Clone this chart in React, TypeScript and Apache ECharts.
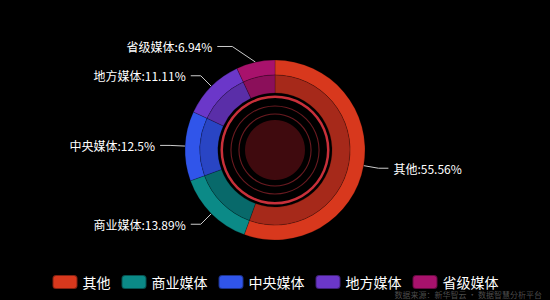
import React, { useEffect, useRef } from "react";
import * as echarts from "echarts";

const categories = ["其他", "商业媒体", "中央媒体", "地方媒体", "省级媒体"];
const values = [40, 10, 9, 8, 5];
const outerColors = ["#d8381d", "#0b8a87", "#3055ea", "#6b37c9", "#a8126c"];
const innerColors = ["#a6291a", "#08696a", "#2945c4", "#5a2ea8", "#8b0f5a"];
const watermark = "数据来源：新华智云 · 数据智慧分析平台";

export default function App() {
  const ref = useRef<HTMLDivElement>(null);
  useEffect(() => {
    document.body.style.margin = "0";
    document.body.style.background = "#000";
    const chart = echarts.init(ref.current!, null, { renderer: "svg" });
    const center = ["50%", "50%"];
    const font = '"Noto Sans CJK SC", sans-serif';
    const ring = (inner: number, outer: number, color: string) => ({
      type: "pie",
      center,
      radius: [inner, outer],
      silent: true,
      label: { show: false },
      labelLine: { show: false },
      itemStyle: { color },
      data: [{ value: 1, name: "" }],
      legendHoverLink: false,
    });
    chart.setOption({
      animation: false,
      backgroundColor: "#000",
      color: outerColors,
      legend: {
        bottom: 5,
        left: "center",
        icon: "roundRect",
        itemWidth: 25,
        itemHeight: 14,
        itemGap: 10,
        textStyle: { color: "#fff", fontSize: 14, fontFamily: font },
        data: categories,
      },
      graphic: [
        {
          type: "text",
          right: 8,
          bottom: 2,
          style: {
            text: watermark,
            fill: "rgba(140,140,140,0.55)",
            fontSize: 8,
            fontFamily: font,
          },
        },
      ],
      series: [
        {
          type: "pie",
          center,
          radius: [75, 90],
          label: {
            show: true,
            formatter: "{b}:{d}%",
            color: "#fff",
            fontSize: 12,
            fontFamily: font,
          },
          labelLine: {
            show: true,
            length: 15,
            length2: 10,
            lineStyle: { color: "#ccc", width: 1 },
          },
          labelLayout: (p: any) => {
            if (p.dataIndex !== 4 || !p.labelLinePoints) return {};
            const pts = p.labelLinePoints;
            const r = p.labelRect;
            const dx = -25;
            const dy = -1;
            const y = r.y + r.height / 2 + dy;
            const right = r.x + r.width + dx;
            return {
              dx,
              dy,
              labelLinePoints: [pts[0], [right + 20, y], [right + 5, y]],
            };
          },
          itemStyle: { borderColor: "rgba(0,0,0,0.4)", borderWidth: 0.5 },
          data: categories.map((n, i) => ({
            name: n,
            value: values[i],
            itemStyle: { color: outerColors[i] },
          })),
        },
        {
          type: "pie",
          center,
          radius: [57, 75],
          silent: true,
          label: { show: false },
          labelLine: { show: false },
          itemStyle: { borderColor: "rgba(0,0,0,0.4)", borderWidth: 0.5 },
          data: categories.map((n, i) => ({
            name: n,
            value: values[i],
            itemStyle: { color: innerColors[i] },
          })),
        },
        ring(52, 54.5, "#c8303a"),
        ring(43.5, 44.6, "#6a1a20"),
        ring(35.5, 36.6, "#6a1a20"),
        ring(0, 30, "#3f0a0e"),
      ],
    });
    return () => chart.dispose();
  }, []);
  return (
    <div
      ref={ref}
      style={{ position: "fixed", left: 0, top: 0, width: 550, height: 300 }}
    />
  );
}
